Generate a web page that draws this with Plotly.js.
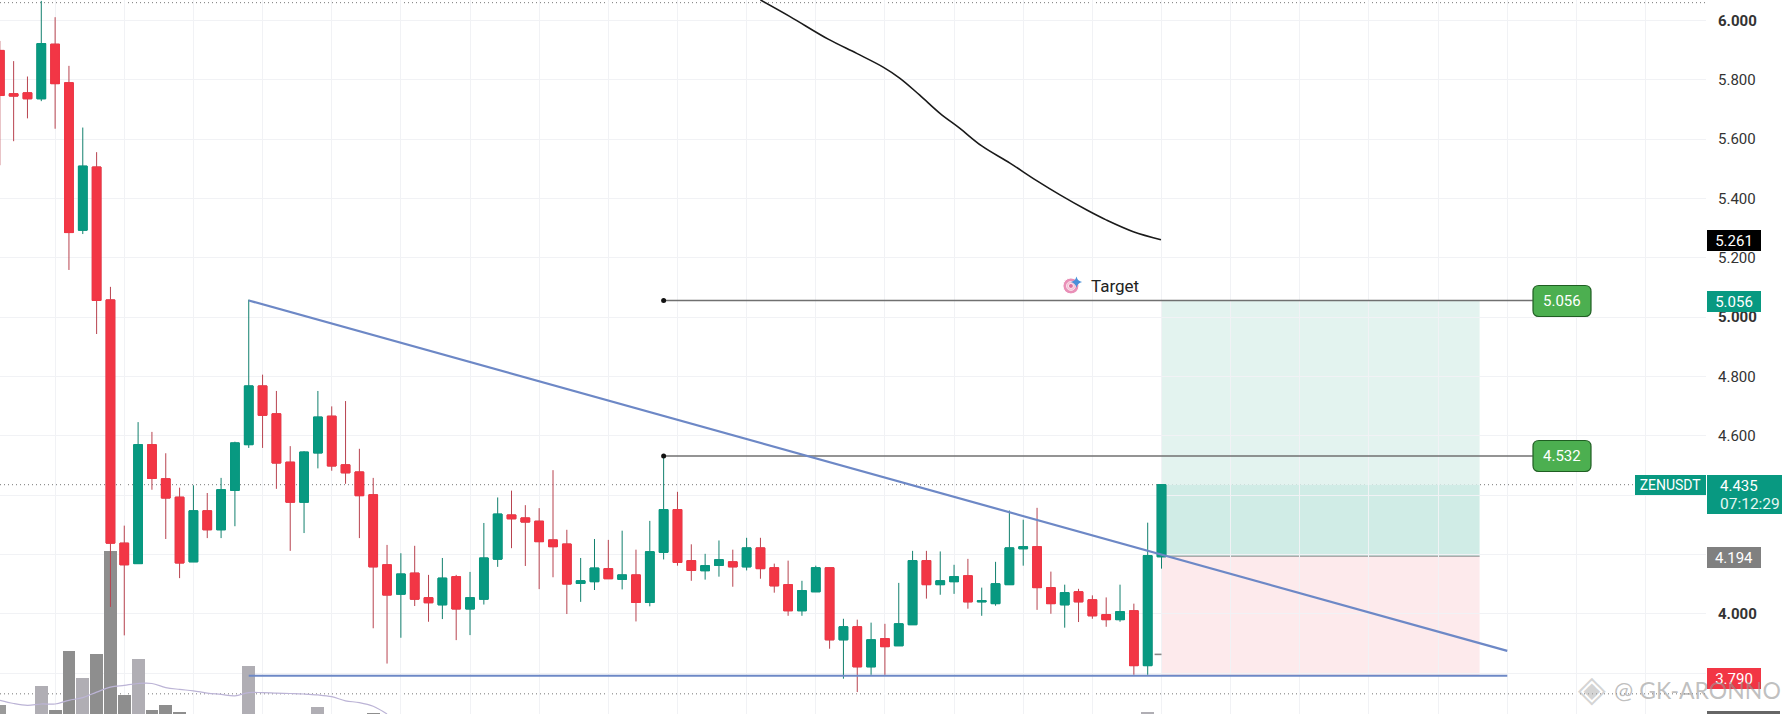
<!DOCTYPE html>
<html><head><meta charset="utf-8">
<script src="https://cdn.plot.ly/plotly-3.0.1.min.js"></script>
<style>html,body{margin:0;padding:0;background:#fff}#c{width:1788px;height:714px}</style>
</head><body><div id="c"></div>
<script>
var opens=[5.899,5.753,5.756,5.736,5.920,5.790,5.293,5.506,5.058,4.238,4.169,4.570,4.455,4.393,4.175,4.347,4.283,4.416,4.570,4.768,4.674,4.511,4.376,4.542,4.666,4.502,4.478,4.401,4.165,4.066,4.137,4.054,4.030,4.125,4.016,4.049,4.184,4.333,4.323,4.312,4.249,4.235,4.102,4.108,4.152,4.116,4.131,4.038,4.207,4.351,4.179,4.145,4.163,4.175,4.158,4.222,4.155,4.098,4.010,4.074,4.155,3.912,3.956,3.821,3.916,3.892,3.963,4.179,4.098,4.108,4.128,4.040,4.034,4.098,4.219,4.226,4.088,4.030,4.074,4.047,3.997,3.980,4.010,3.825,4.192];
var closes=[5.747,5.745,5.736,5.922,5.787,5.285,5.509,5.056,4.238,4.165,4.570,4.456,4.390,4.171,4.347,4.283,4.418,4.576,4.768,4.669,4.508,4.376,4.545,4.663,4.498,4.475,4.398,4.158,4.063,4.134,4.049,4.037,4.120,4.016,4.054,4.188,4.336,4.320,4.309,4.243,4.226,4.100,4.111,4.154,4.118,4.131,4.038,4.209,4.351,4.173,4.146,4.162,4.182,4.158,4.222,4.152,4.094,4.010,4.078,4.155,3.912,3.956,3.821,3.912,3.889,3.966,4.179,4.098,4.111,4.125,4.040,4.044,4.101,4.222,4.226,4.088,4.034,4.071,4.040,3.993,3.980,4.007,3.825,4.196,4.435];
var highs=[5.931,5.863,5.811,6.066,6.011,5.847,5.639,5.556,5.102,4.297,4.646,4.613,4.541,4.425,4.433,4.407,4.458,4.580,5.059,4.806,4.751,4.565,4.548,4.751,4.699,4.717,4.556,4.458,4.232,4.204,4.229,4.131,4.188,4.131,4.141,4.306,4.392,4.415,4.366,4.356,4.484,4.283,4.188,4.252,4.249,4.280,4.216,4.313,4.536,4.411,4.234,4.202,4.247,4.216,4.256,4.256,4.169,4.179,4.111,4.162,4.155,3.983,3.980,3.970,3.966,4.104,4.212,4.212,4.210,4.165,4.185,4.088,4.175,4.348,4.317,4.357,4.142,4.098,4.084,4.062,4.055,4.098,4.034,4.307,4.435];
var lows=[5.512,5.593,5.670,5.728,5.635,5.159,5.280,4.943,4.023,3.927,4.169,4.418,4.252,4.120,4.175,4.255,4.255,4.295,4.559,4.559,4.421,4.212,4.272,4.490,4.482,4.438,4.255,3.951,3.832,3.919,4.026,3.973,3.982,3.911,3.928,4.031,4.158,4.221,4.161,4.083,4.123,3.999,4.040,4.080,4.118,4.082,3.974,4.025,4.183,4.162,4.111,4.115,4.125,4.091,4.146,4.118,4.071,3.993,3.993,4.074,3.882,3.781,3.736,3.794,3.794,3.892,3.963,4.051,4.064,4.067,4.017,3.993,4.027,4.098,4.162,4.013,4.000,3.953,3.972,3.983,3.956,3.973,3.794,3.794,4.152];
var barIndex=opens.map(function(_,i){return i;});

var volIndex=[0,3,4,5,6,7,8,9,10,11,12,13,18,23,27,83];
var volValues=[9,28,4,63,36,60,163,19,55,4,9,2,48,7,1.5,2];
var volColors=['#9a9a9a','#b0aeb4','#8e8e8e','#8e8e8e','#b0aeb4','#8e8e8e','#8e8e8e','#8e8e8e','#b0aeb4','#8e8e8e','#8e8e8e','#8e8e8e','#b0aeb4','#b0aeb4','#8e8e8e','#b0aeb4'];
var volMaIndex=[0,1,2,3,4,5,6,7,8,9,10,11,12,13,14,15,16,17,18,19,20,21,22,23,24,25,26,27,28];
var volMaValues=[13.7,10.5,8.7,10,10,13.7,16.4,21.9,26.9,28.7,30.5,30.5,26.4,24.6,23.2,20.9,19.6,18.2,21.4,21.4,20.9,20.5,20,19.1,17.3,13.2,11.4,7.7,0];

var maIndex=[55,57.14,59.9,61.96,63.9,65.09,66.5,67.98,69.4,71,73.04,74.97,76.66,78.6,80.03,81.96,83.96];
var maValues=[6.069,6.013,5.937,5.889,5.842,5.805,5.749,5.687,5.637,5.577,5.519,5.46,5.412,5.361,5.327,5.288,5.261];

var trendIndex=[18,109];
var trendValues=[5.056,3.875];
var supportIndex=[18,109];
var supportValues=[3.791,3.791];

var levelStart=48, levelEnd=110.85;
var targetLevel=5.056, highLevel=4.532, priceLevel=4.435, entryLevel=4.194, stopLevel=3.791, maLast=5.261;
var boxStart=84, boxEnd=107;
var tickVals=[3.8,4,4.2,4.4,4.6,4.8,5,5.2,5.4,5.6,5.8,6];
var tickText=['','<b>4.000</b>','','','4.600','4.800','<b>5.000</b>','5.200','5.400','5.600','5.800','<b>6.000</b>'];

var FONT='Roboto, sans-serif';
var W=1706,H=714;
function px(x){return x/W;}
function py(y){return 1-y/H;}

var bodyTop=opens.map(function(o,i){return Math.max(o,closes[i]);});
var bodyBottom=opens.map(function(o,i){return Math.min(o,closes[i]);});

var traces=[
 {type:'bar',x:volIndex,y:volValues,width:0.93,marker:{color:volColors,line:{width:0}},yaxis:'y',xaxis:'x',hoverinfo:'skip'},
 {type:'scatter',mode:'lines',x:volMaIndex,y:volMaValues,line:{color:'#bcb4d6',width:1.2,shape:'spline'},yaxis:'y',hoverinfo:'skip'},
 {type:'candlestick',x:barIndex,open:opens,high:highs,low:lows,close:closes,yaxis:'y2',xaxis:'x',whiskerwidth:0,
  increasing:{line:{color:'#12806e',width:1},fillcolor:'#089981'},
  decreasing:{line:{color:'#b8434f',width:1},fillcolor:'#f23645'},hoverinfo:'skip'},
 {type:'candlestick',x:barIndex,open:opens,high:bodyTop,low:bodyBottom,close:closes,yaxis:'y2',xaxis:'x',whiskerwidth:0,
  increasing:{line:{color:'#089981',width:1},fillcolor:'#089981'},
  decreasing:{line:{color:'#f23645',width:1},fillcolor:'#f23645'},hoverinfo:'skip'},
 {type:'scatter',mode:'lines',x:maIndex,y:maValues,yaxis:'y2',line:{color:'#1a1a1a',width:1.6,shape:'spline'},hoverinfo:'skip'},
 {type:'scatter',mode:'lines',x:[levelStart,levelEnd],y:[targetLevel,targetLevel],yaxis:'y2',line:{color:'#707070',width:1.6},hoverinfo:'skip'},
 {type:'scatter',mode:'lines',x:[levelStart,levelEnd],y:[highLevel,highLevel],yaxis:'y2',line:{color:'#707070',width:1.6},hoverinfo:'skip'},
 {type:'scatter',mode:'markers',x:[levelStart,levelStart],y:[targetLevel,highLevel],yaxis:'y2',marker:{color:'#111',size:5},hoverinfo:'skip'},
 {type:'scatter',mode:'lines',x:trendIndex,y:trendValues,yaxis:'y2',line:{color:'#6d88c6',width:2.2},hoverinfo:'skip'},
 {type:'scatter',mode:'lines',x:supportIndex,y:supportValues,yaxis:'y2',line:{color:'#6d88c6',width:2.2},hoverinfo:'skip'},
 {type:'scatter',mode:'lines',x:[83.5,84],y:[3.863,3.863],yaxis:'y2',line:{color:'#888',width:1.6},hoverinfo:'skip'},
 {type:'scatter',mode:'markers',x:[77.45,77.45,77.45],y:[5.105,5.105,5.105],yaxis:'y2',marker:{color:['#e0619a','#f9d5e3','#d64f87'],size:[16,9,5]},hoverinfo:'skip'},
 {type:'scatter',mode:'markers',x:[77.85],y:[5.118],yaxis:'y2',marker:{color:'#4a90d9',size:8,symbol:'star-diamond'},hoverinfo:'skip'}
];

function rect(x0,x1,y0,y1,color){return {type:'rect',layer:'below',xref:'x',yref:'y2',x0:x0,x1:x1,y0:y0,y1:y1,fillcolor:color,line:{width:0}};}
function dotted(v){return {type:'line',layer:'below',xref:'paper',yref:'y2',x0:0,x1:1,y0:v,y1:v,line:{color:'#777',width:1,dash:'1px,3px'}};}
function pill(cx,cy,w,h,r){
  var x0=cx-w/2,x1=cx+w/2,y0=cy-h/2,y1=cy+h/2;
  function p(x,y){return px(x)+','+py(y);}
  return {type:'path',layer:'above',xref:'paper',yref:'paper',fillcolor:'#4caf50',line:{color:'#1f5e22',width:1.2},
    path:'M'+p(x0+r,y0)+' L'+p(x1-r,y0)+' Q'+p(x1,y0)+' '+p(x1,y0+r)+' L'+p(x1,y1-r)+' Q'+p(x1,y1)+' '+p(x1-r,y1)+' L'+p(x0+r,y1)+' Q'+p(x0,y1)+' '+p(x0,y1-r)+' L'+p(x0,y0+r)+' Q'+p(x0,y0)+' '+p(x0+r,y0)+' Z'};
}
var shapes=[
 rect(boxStart,boxEnd,priceLevel,targetLevel,'#e3f3ef'),
 rect(boxStart,boxEnd,entryLevel,priceLevel,'#d0ece6'),
 rect(boxStart,boxEnd,stopLevel,entryLevel,'#fdeaec'),
 {type:'line',layer:'below',xref:'x',yref:'y2',x0:boxStart,x1:boxEnd,y0:entryLevel,y1:entryLevel,line:{color:'#8a8a8a',width:1}},
 dotted(6.06),dotted(priceLevel),dotted(3.73),
 pill(1562,301,58,31,6),
 pill(1562,456,58,31,6),
 {type:'rect',layer:'above',xref:'paper',yref:'paper',x0:px(1707),x1:px(1782),y0:py(475),y1:py(514),fillcolor:'#089981',line:{width:0}},
 {type:'rect',layer:'above',xref:'paper',yref:'paper',x0:px(1707),x1:px(1780),y0:py(714),y1:py(711),fillcolor:'#666',line:{width:0}}
];

function tag(text,pxLeft,pxW,yPx,hPx,bg,color,size){
  return {xref:'paper',yref:'paper',x:px(pxLeft),y:py(yPx),xanchor:'left',yanchor:'middle',text:text,showarrow:false,
    bgcolor:bg,width:pxW,height:hPx,align:'center',valign:'middle',borderpad:0,borderwidth:0,
    font:{family:FONT,size:size||15,color:color}};
}
function plain(text,xPx,yPx,anchor,font){
  return {xref:'paper',yref:'paper',x:px(xPx),y:py(yPx),xanchor:anchor,yanchor:'middle',text:text,showarrow:false,font:font};
}
var annotations=[
 tag(String(maLast),1707,54,240,21,'#000','#fff'),
 tag(targetLevel.toFixed(3),1707,54,301.5,21,'#089981','#fff'),
 tag(entryLevel.toFixed(3),1707,54,557,21,'#808080','#fff'),
 tag('3.790',1707,54,678,21,'#f23645','#fff'),
 tag('ZENUSDT',1635,71,485,20,'#089981','#fff',14),
 plain(priceLevel.toFixed(3),1718,486,'left',{family:FONT,size:15,color:'#fff'}),
 plain('07:12:29',1718,503.5,'left',{family:FONT,size:15.5,color:'#e6f7f3'}),
 plain(targetLevel.toFixed(3),1562,301,'center',{family:FONT,size:15,color:'#fff'}),
 plain(highLevel.toFixed(3),1562,456,'center',{family:FONT,size:15,color:'#fff'}),
 plain('Target',1089,286,'left',{family:FONT,size:17,color:'#222'}),
 plain('@ GK-ARONNO',1612,690,'left',{family:'Lato, sans-serif',size:23,color:'rgba(150,150,150,0.6)'}),
 plain('◈',1592,688,'center',{family:'DejaVu Sans',size:36,color:'rgba(170,170,170,0.5)'})
];

var layout={
 width:1788,height:714,margin:{l:0,r:82,t:0,b:0,pad:0},paper_bgcolor:'#fff',plot_bgcolor:'#fff',showlegend:false,
 boxgap:0.1,
 xaxis:{type:'linear',range:[0.0145,123.37],showticklabels:false,ticks:'',tick0:4,dtick:5,showgrid:true,gridcolor:'#f1f2f5',gridwidth:1,zeroline:false,showline:false,rangeslider:{visible:false},fixedrange:true},
 yaxis:{range:[0,714],visible:false,showgrid:false,zeroline:false,fixedrange:true},
 yaxis2:{overlaying:'y',side:'right',anchor:'x',range:[3.662,6.069],tickmode:'array',tickvals:tickVals,ticktext:tickText,showgrid:true,gridcolor:'#f1f2f5',gridwidth:1,zeroline:false,showline:false,ticks:'',ticklabelstandoff:11,tickfont:{family:FONT,size:15,color:'#333'},fixedrange:true},
 shapes:shapes,annotations:annotations,bargap:0
};
Plotly.newPlot('c',traces,layout,{displayModeBar:false,staticPlot:true});
</script></body></html>
